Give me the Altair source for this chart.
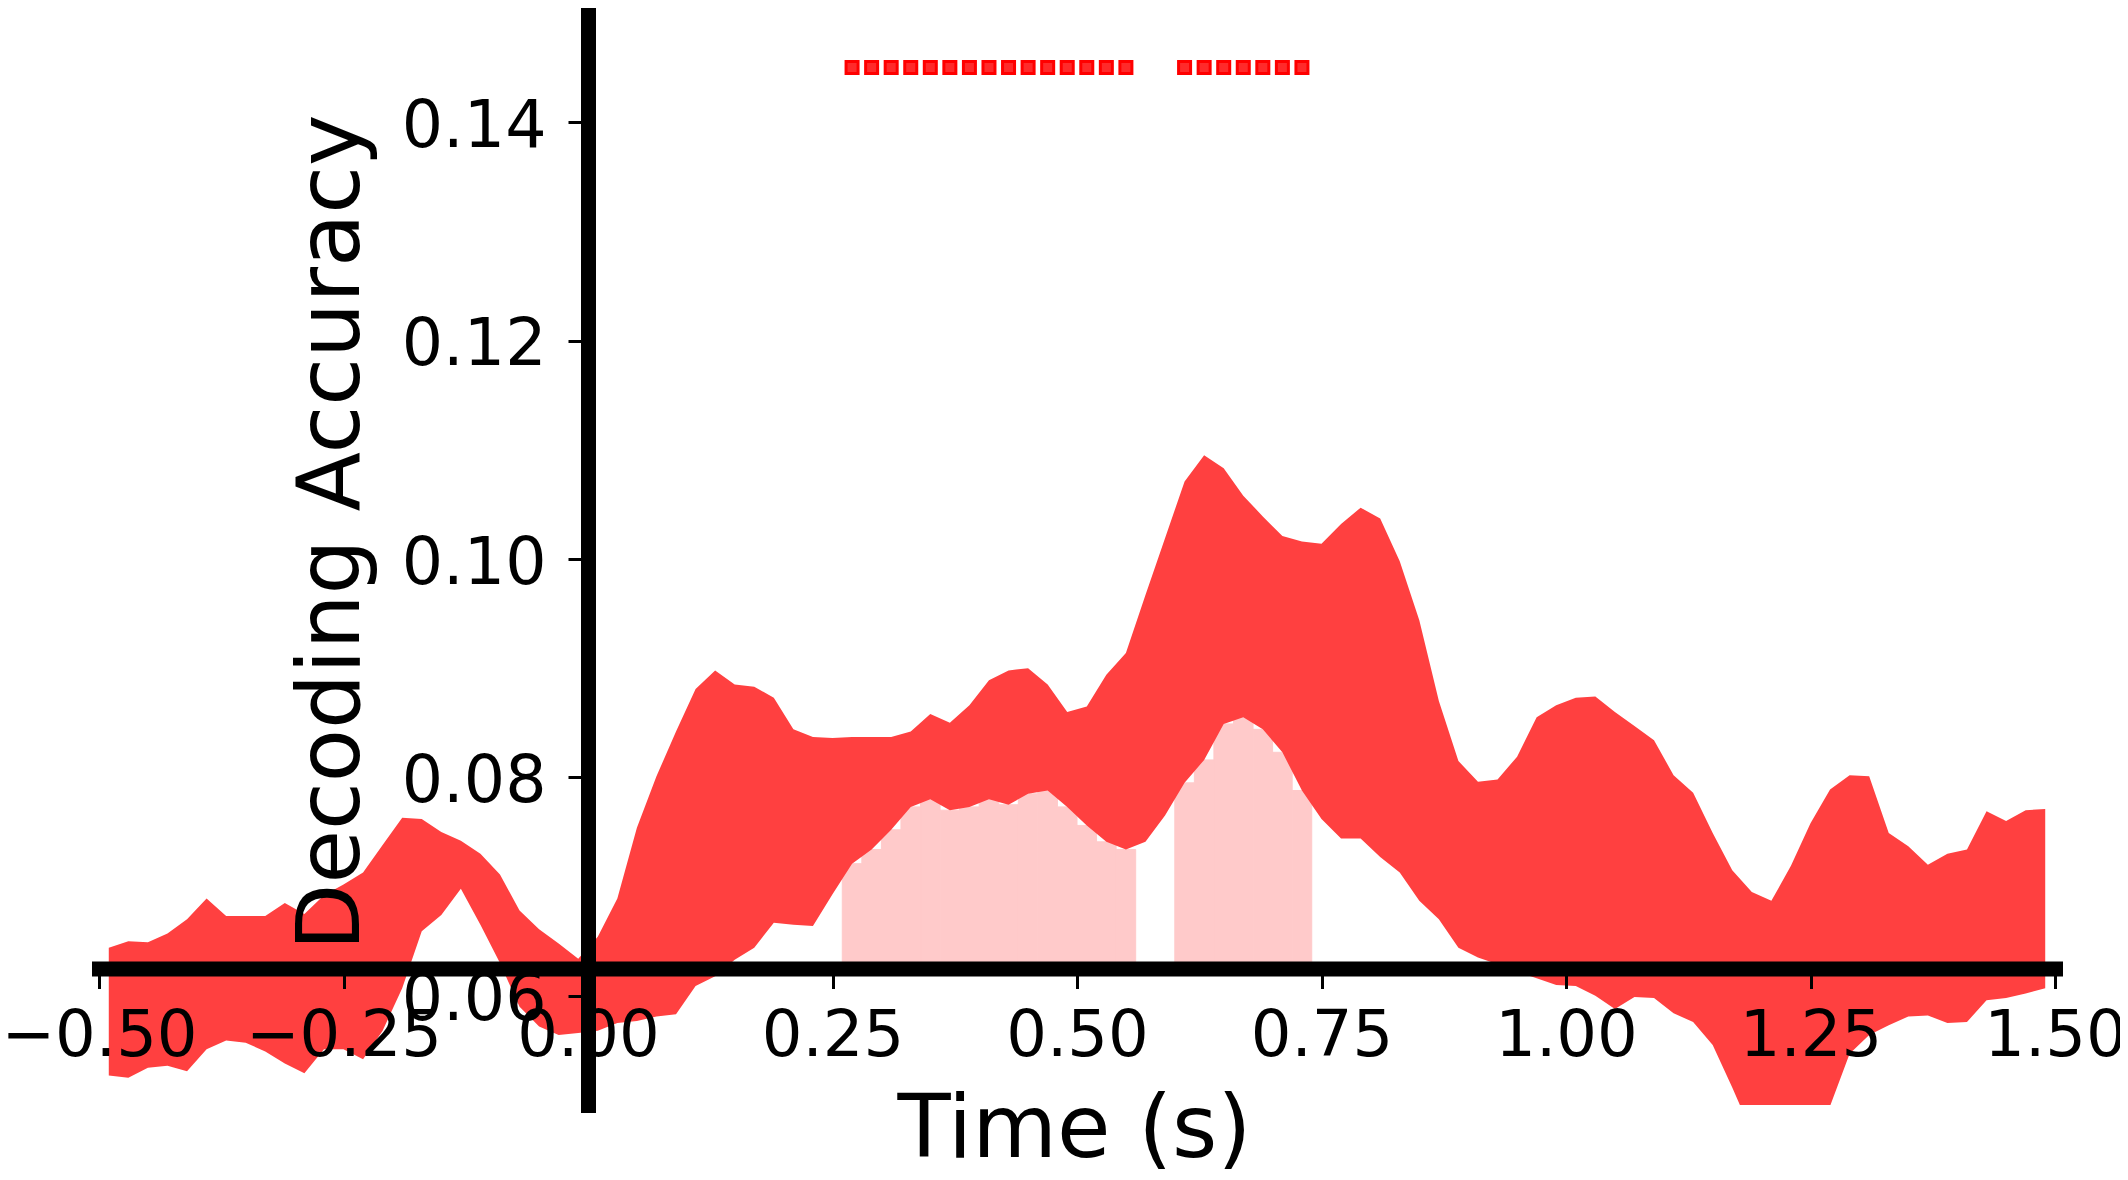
import altair as alt
import pandas as pd

# ---- data ----
times = [round(-0.49 + 0.02 * i, 2) for i in range(100)]

upper = [
    0.0644, 0.0650, 0.0649, 0.0657, 0.0670, 0.0689, 0.0673, 0.0673, 0.0673, 0.0685,
    0.0675, 0.0692, 0.0702, 0.0713, 0.0738, 0.0763, 0.0762, 0.0750, 0.0742, 0.0730,
    0.0711, 0.0678, 0.0661, 0.0648, 0.0634, 0.0654, 0.0689, 0.0754, 0.0801, 0.0842,
    0.0881, 0.0898, 0.0885, 0.0883, 0.0873, 0.0844, 0.0837, 0.0836, 0.0837, 0.0837,
    0.0837, 0.0842, 0.0858, 0.0850, 0.0866, 0.0889, 0.0898, 0.0900, 0.0885, 0.0860,
    0.0865, 0.0894, 0.0914, 0.0967, 0.1019, 0.1071, 0.1095, 0.1083, 0.1058, 0.1039,
    0.1021, 0.1016, 0.1014, 0.1032, 0.1047, 0.1037, 0.0998, 0.0944, 0.0870, 0.0815,
    0.0796, 0.0798, 0.0819, 0.0855, 0.0866, 0.0873, 0.0874, 0.0860, 0.0847, 0.0834,
    0.0802, 0.0786, 0.0749, 0.0715, 0.0695, 0.0687, 0.0719, 0.0758, 0.0789, 0.0802,
    0.0801, 0.0749, 0.0737, 0.0720, 0.0730, 0.0734, 0.0769, 0.0760, 0.0770, 0.0771,
]

lower = [
    0.0527, 0.0525, 0.0534, 0.0536, 0.0531, 0.0551, 0.0559, 0.0557, 0.0549, 0.0538,
    0.0529, 0.0551, 0.0551, 0.0542, 0.0568, 0.0607, 0.0659, 0.0674, 0.0698, 0.0665,
    0.0630, 0.0590, 0.0572, 0.0564, 0.0566, 0.0568, 0.0575, 0.0577, 0.0581, 0.0583,
    0.0609, 0.0618, 0.0633, 0.0644, 0.0667, 0.0665, 0.0664, 0.0693, 0.0721, 0.0734,
    0.0752, 0.0773, 0.0780, 0.0770, 0.0773, 0.0780, 0.0775, 0.0785, 0.0788, 0.0773,
    0.0756, 0.0741, 0.0734, 0.0741, 0.0765, 0.0795, 0.0816, 0.0849, 0.0855, 0.0844,
    0.0823, 0.0788, 0.0762, 0.0744, 0.0744, 0.0727, 0.0713, 0.0687, 0.0670, 0.0644,
    0.0635, 0.0629, 0.0622, 0.0616, 0.0610, 0.0609, 0.0600, 0.0588, 0.0599, 0.0598,
    0.0584, 0.0576, 0.0555, 0.0516, 0.0475, 0.0465, 0.0468, 0.0478, 0.0499, 0.0547,
    0.0564, 0.0573, 0.0581, 0.0582, 0.0575, 0.0576, 0.0596, 0.0598, 0.0602, 0.0607,
]

sig_times = [0.27, 0.29, 0.31, 0.33, 0.35, 0.37, 0.39, 0.41, 0.43, 0.45,
             0.47, 0.49, 0.51, 0.53, 0.55,
             0.61, 0.63, 0.65, 0.67, 0.69, 0.71, 0.73]

chance = 0.0625
marker_level = 0.145
x_ticks = [-0.5, -0.25, 0.0, 0.25, 0.5, 0.75, 1.0, 1.25, 1.5]
y_ticks = [0.06, 0.08, 0.10, 0.12, 0.14]
x_domain = [-0.5, 1.5]
y_domain = [0.05, 0.15]

assert len(times) == len(upper) == len(lower) == 100

df = pd.DataFrame({"t": times, "upper": upper, "lower": lower})
sig_df = df[df["t"].round(2).isin([round(s, 2) for s in sig_times])].copy()

# ---- layout ----
W = 1956
H = 1092
FONT = "DejaVu Sans"

# axes cross at x = 0 and y = chance
x_axis_pos = (y_domain[1] - chance) / (y_domain[1] - y_domain[0]) * H
x_offset = x_axis_pos - H
y_axis_pos = (0 - x_domain[0]) / (x_domain[1] - x_domain[0]) * W
y_offset = -y_axis_pos

xscale = alt.Scale(domain=x_domain, nice=False, zero=False)
yscale = alt.Scale(domain=y_domain, nice=False, zero=False)

x_axis = alt.Axis(
    values=x_ticks, format=".2f", offset=x_offset,
    domainWidth=15, domainColor="black", domainCap="square",
    tickSize=20, tickWidth=3, tickColor="black",
    labelFont=FONT, labelFontSize=64, labelColor="black", labelPadding=16,
    labelFlush=False, labelOverlap=False, labelBound=False, labelLimit=1000,
    grid=False, zindex=1,
    title="Time (s)", titleFont=FONT, titleFontSize=87, titleFontWeight="normal",
    titleColor="black", titleBaseline="alphabetic", titleAlign="center",
    titleX=975, titleY=188,
)

y_axis = alt.Axis(
    values=y_ticks, format=".2f", offset=y_offset,
    domainWidth=15, domainColor="black", domainCap="square",
    tickSize=20, tickWidth=3, tickColor="black",
    labelFont=FONT, labelFontSize=65, labelColor="black", labelPadding=22,
    labelFlush=False, labelOverlap=False, labelBound=False, labelOffset=4,
    labelLimit=1000,
    grid=False, zindex=1,
    title="Decoding Accuracy", titleFont=FONT, titleFontSize=87,
    titleFontWeight="normal", titleColor="black", titleAngle=270,
    titleBaseline="alphabetic", titleAlign="center",
    titleX=-230, titleY=519,
)

base = alt.Chart(df)

sig_bars = alt.Chart(sig_df).transform_calculate(
    t0="datum.t - 0.01", t1="datum.t + 0.01"
).mark_rect(color="#ffcaca", stroke="#ffcaca", strokeWidth=1, clip=True).encode(
    x=alt.X("t0:Q", scale=xscale, axis=x_axis),
    x2="t1:Q",
    y=alt.Y("lower:Q", scale=yscale, axis=y_axis),
    y2=alt.datum(chance),
)

band = base.mark_area(color="#ff4040", opacity=1, clip=True).encode(
    x=alt.X("t:Q", scale=xscale),
    y=alt.Y("upper:Q", scale=yscale),
    y2="lower:Q",
)

markers = alt.Chart(sig_df).mark_point(
    shape="square", filled=True, size=144, fill="#ff2a2a",
    stroke="#ff0000", strokeWidth=3, opacity=1,
).encode(
    x=alt.X("t:Q", scale=xscale),
    y=alt.datum(marker_level),
)

chart = alt.layer(sig_bars, band, markers).properties(
    width=W, height=H,
    autosize=alt.AutoSizeParams(type="none"),
    padding={"left": 91, "top": 5, "right": 65, "bottom": 67},
).configure(font=FONT).configure_view(strokeWidth=0, stroke="transparent")

chart.save("out.html", embed_options={"renderer": "svg", "actions": False})
